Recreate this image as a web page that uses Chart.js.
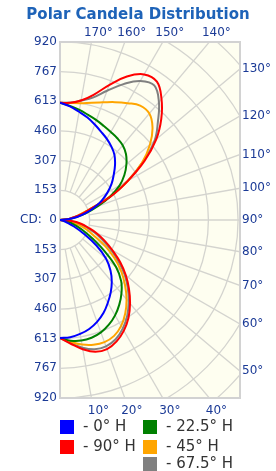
<!DOCTYPE html>
<html>
<head>
<meta charset="utf-8">
<script src="https://cdn.jsdelivr.net/npm/chart.js@4/dist/chart.umd.min.js"></script>
<style>
  html, body { margin: 0; padding: 0; background: #fff; }
  canvas { display: block; }
</style>
</head>
<body>
<canvas id="polar" width="276" height="471"></canvas>
<script>
// vertical angle, 0 = straight down, 180 = straight up
const angles = [0, 5, 10, 15, 20, 25, 30, 35, 40, 45, 50, 55, 60, 65, 70, 75, 80, 85, 90,
    95, 100, 105, 110, 115, 120, 125, 130, 135, 140, 145, 150, 155, 160, 165, 170, 175, 180];

// candela for each horizontal plane
const cd0 = [610, 608, 598, 583, 560, 531, 494, 457, 416, 369, 310, 230, 140, 80, 38, 18, 8, 3, 0,
    40, 90, 140, 188, 238, 283, 325, 362, 402, 438, 463, 484, 503, 525, 548, 568, 590, 606];
const cd90 = [610, 642, 678, 705, 710, 692, 660, 617, 563, 504, 444, 380, 313, 255, 203, 150, 110, 60, 0,
    40, 62, 112, 168, 291, 405, 533, 649, 740, 816, 873, 869, 818, 742, 670, 627, 608, 606];
const cd22 = [610, 626, 633, 630, 618, 597, 569, 534, 494, 447, 378, 282, 197, 135, 90, 58, 32, 12, 0,
    45, 80, 140, 208, 285, 355, 406, 448, 482, 504, 516, 525, 536, 549, 562, 578, 592, 606];
const cd45 = [610, 632, 654, 668, 672, 661, 632, 588, 535, 475, 413, 343, 270, 195, 148, 103, 62, 28, 0,
    35, 72, 105, 167, 281, 406, 518, 607, 676, 718, 722, 697, 672, 647, 628, 613, 607, 606];
const cd67 = [610, 638, 670, 692, 695, 680, 648, 605, 552, 495, 435, 365, 300, 240, 190, 140, 100, 55, 0,
    40, 62, 110, 166, 288, 402, 522, 638, 715, 795, 849, 830, 775, 711, 655, 627, 608, 606];

const seriesLabels = ["- 0° H", "- 90° H", "- 22.5° H", "- 45° H", "- 67.5° H"];
const seriesColors = ["#0000ff", "#ff0000", "#008000", "#ffa500", "#808080"];
const seriesValues = [cd0, cd90, cd22, cd45, cd67];

const cdTicks = [-920, -766.67, -613.33, -460, -306.67, -153.33, 0,
    153.33, 306.67, 460, 613.33, 766.67, 920];
const ringValues = [153.33, 306.67, 460, 613.33, 766.67, 920, 1073.33, 1226.67];
const spokeAngles = [10, 20, 30, 40, 50, 60, 70, 80, 90, 100, 110, 120, 130, 140, 150, 160, 170];
const topAngles = [170, 160, 150, 140];
const bottomAngles = [10, 20, 30, 40];
const rightAngles = [130, 120, 110, 100, 90, 80, 70, 60, 50];

const cdMax = 920;
const xMax = 930;
const rad = Math.PI / 180;
const tickColor = "#1b3a96";
const tickFont = { family: "DejaVu Sans", size: 12 };

function toXY(values) {
    return angles.map((a, i) => ({
        x: values[i] * Math.sin(a * rad),
        y: -values[i] * Math.cos(a * rad)
    }));
}

const polarGrid = {
    id: "polarGrid",
    beforeDatasetsDraw(chart) {
        const { ctx, chartArea: area, scales } = chart;
        const cx = scales.x.getPixelForValue(0);
        const cy = scales.y.getPixelForValue(0);
        const len = v => scales.x.getPixelForValue(v) - cx;

        ctx.save();
        ctx.fillStyle = "#fefef0";
        ctx.fillRect(area.left, area.top, area.width, area.height);
        ctx.beginPath();
        ctx.rect(area.left, area.top, area.width, area.height);
        ctx.clip();
        ctx.strokeStyle = "#d4d4cf";
        ctx.lineWidth = 1.3;
        ringValues.forEach(v => {
            ctx.beginPath();
            ctx.arc(cx, cy, len(v), -Math.PI / 2, Math.PI / 2);
            ctx.stroke();
        });
        const r0 = len(ringValues[0]);
        const r1 = len(1500);
        spokeAngles.forEach(a => {
            const s = Math.sin(a * rad), c = Math.cos(a * rad);
            ctx.beginPath();
            ctx.moveTo(cx + r0 * s, cy + r0 * c);
            ctx.lineTo(cx + r1 * s, cy + r1 * c);
            ctx.stroke();
        });
        ctx.restore();

        ctx.save();
        ctx.strokeStyle = "#d2d2d2";
        ctx.lineWidth = 2;
        ctx.strokeRect(area.left, area.top, area.width, area.height);
        ctx.restore();
    }
};

// legend laid out in two columns like the original
const legendBoxes = {
    id: "legendBoxes",
    afterDraw(chart) {
        const { ctx, chartArea: area } = chart;
        const slots = [[0, 0], [0, 1], [1, 0], [1, 1], [1, 2]];
        const colX = [area.left, area.left + 83];
        const rowY = [427, 447, 464];
        ctx.save();
        ctx.font = "15px 'DejaVu Sans'";
        ctx.textBaseline = "middle";
        ctx.fillStyle = "#333";
        chart.data.datasets.forEach((ds, i) => {
            const [col, row] = slots[i];
            const x = colX[col], y = rowY[row];
            ctx.fillStyle = ds.borderColor;
            ctx.fillRect(x, y - 7, 14, 14);
            ctx.fillStyle = "#333";
            ctx.fillText(ds.label, x + 23, y);
        });
        ctx.restore();
    }
};

new Chart(document.getElementById("polar"), {
    type: "scatter",
    data: {
        datasets: seriesValues.map((vals, i) => ({
            label: seriesLabels[i],
            data: toXY(vals),
            borderColor: seriesColors[i],
            backgroundColor: seriesColors[i],
            borderWidth: 2,
            showLine: true,
            pointRadius: 0,
            tension: 0.4,
            fill: false
        }))
    },
    options: {
        responsive: false,
        animation: false,
        layout: {
            padding: { left: 0, right: 0, top: 0, bottom: 53 }
        },
        plugins: {
            legend: { display: false },
            tooltip: { enabled: false },
            title: {
                display: true,
                text: "Polar Candela Distribution",
                color: "#1e63b8",
                font: { family: "DejaVu Sans", size: 15, weight: "bold", lineHeight: 1.2 },
                padding: { top: 6, bottom: 0 }
            }
        },
        scales: {
            x: {
                type: "linear",
                position: "bottom",
                min: 0,
                max: xMax,
                grid: { display: false, drawTicks: false },
                border: { display: false },
                afterBuildTicks: s => { s.ticks = bottomAngles.map(a => ({ value: cdMax * Math.tan(a * rad) })); },
                afterFit: s => { s.height = 20; },
                ticks: {
                    autoSkip: false,
                    maxRotation: 0,
                    padding: 6,
                    labelOffset: 7,
                    color: tickColor,
                    font: tickFont,
                    callback: (v, i) => bottomAngles[i] + "°"
                }
            },
            xTop: {
                type: "linear",
                position: "top",
                min: 0,
                max: xMax,
                grid: { display: false, drawTicks: false },
                border: { display: false },
                afterBuildTicks: s => { s.ticks = topAngles.map(a => ({ value: cdMax * Math.tan((180 - a) * rad) })); },
                afterFit: s => { s.height = 18; },
                ticks: {
                    autoSkip: false,
                    maxRotation: 0,
                    padding: 2,
                    labelOffset: 7,
                    color: tickColor,
                    font: tickFont,
                    callback: (v, i) => topAngles[i] + "°"
                }
            },
            y: {
                type: "linear",
                position: "left",
                min: -cdMax,
                max: cdMax,
                grid: { display: false, drawTicks: false },
                border: { display: false },
                afterBuildTicks: s => { s.ticks = cdTicks.map(v => ({ value: v })); },
                afterFit: s => { s.width = 60; },
                ticks: {
                    autoSkip: false,
                    padding: 3,
                    color: tickColor,
                    font: tickFont,
                    callback: v => v === 0 ? "CD:  0" : String(Math.round(Math.abs(v)))
                }
            },
            yRight: {
                type: "linear",
                position: "right",
                min: -cdMax,
                max: cdMax,
                grid: { display: false, drawTicks: false },
                border: { display: false },
                afterBuildTicks: s => { s.ticks = rightAngles.map(a => ({ value: -xMax / Math.tan(a * rad) })); },
                afterFit: s => { s.width = 36; },
                ticks: {
                    autoSkip: false,
                    padding: 2,
                    color: tickColor,
                    font: tickFont,
                    callback: (v, i) => rightAngles[i] + "°"
                }
            }
        }
    },
    plugins: [polarGrid, legendBoxes]
});
</script>
</body>
</html>
